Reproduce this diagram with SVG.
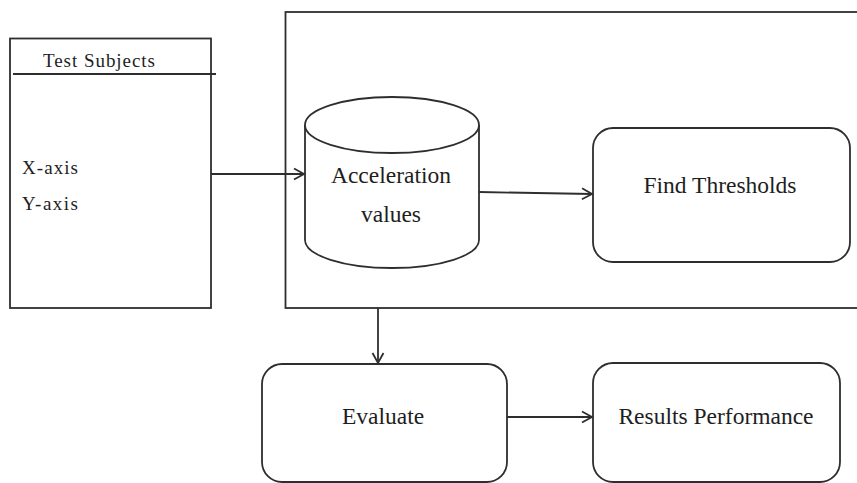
<svg xmlns="http://www.w3.org/2000/svg" width="857" height="483" viewBox="0 0 857 483">
  <defs>
    <style>
      .shape { fill: #ffffff; stroke: #2e2e2e; stroke-width: 1.8; }
      .line { fill: none; stroke: #2e2e2e; stroke-width: 1.8; }
      .conn { fill: none; stroke: #2e2e2e; stroke-width: 1.8; marker-end: url(#arrow); }
      .lbl { font-family: "Liberation Serif", "Times New Roman", serif; fill: #1e1e1e; }
      .big { font-size: 23.5px; text-anchor: middle; }
      .small { font-size: 19px; }
    </style>
    <marker id="arrow" markerWidth="14" markerHeight="14" refX="11" refY="7" orient="auto" markerUnits="userSpaceOnUse">
      <path d="M1,1.5 L11,7 L1,12.5" fill="none" stroke="#2e2e2e" stroke-width="1.8"/>
    </marker>
  </defs>
  <rect width="857" height="483" fill="#ffffff"/>

  <g id="container">
    <rect class="shape" x="285.5" y="12" width="580" height="296"/>
  </g>

  <g id="test-subjects">
    <rect class="shape" x="10" y="38.5" width="201" height="269.5"/>
    <line class="line" x1="13" y1="74" x2="216" y2="74"/>
    <text class="lbl small" x="43" y="67" textLength="112" lengthAdjust="spacing">Test Subjects</text>
    <text class="lbl small" x="22" y="174" textLength="56" lengthAdjust="spacing">X-axis</text>
    <text class="lbl small" x="22" y="210" textLength="56" lengthAdjust="spacing">Y-axis</text>
  </g>

  <g id="acceleration-values">
    <path class="shape" d="M305,125 L305,240 A87,28 0 0 0 479,240 L479,125"/>
    <ellipse class="shape" cx="392" cy="125" rx="87" ry="28"/>
    <text class="lbl big" x="391" y="183">Acceleration</text>
    <text class="lbl big" x="391" y="222">values</text>
  </g>

  <g id="find-thresholds">
    <rect class="shape" x="593" y="128" width="257" height="134" rx="20" ry="20"/>
    <text class="lbl big" x="720" y="193">Find Thresholds</text>
  </g>

  <g id="evaluate">
    <rect class="shape" x="262" y="364" width="245" height="118" rx="20" ry="20"/>
    <text class="lbl big" x="383" y="424">Evaluate</text>
  </g>

  <g id="results-performance">
    <rect class="shape" x="593" y="363" width="247" height="119" rx="20" ry="20"/>
    <text class="lbl big" x="716" y="424">Results Performance</text>
  </g>

  <g id="connectors">
    <line class="conn" x1="211" y1="174" x2="304" y2="174"/>
    <line class="conn" x1="479" y1="192" x2="592" y2="194"/>
    <line class="conn" x1="378" y1="308" x2="378" y2="363"/>
    <line class="conn" x1="507" y1="417" x2="592" y2="417"/>
  </g>
</svg>
